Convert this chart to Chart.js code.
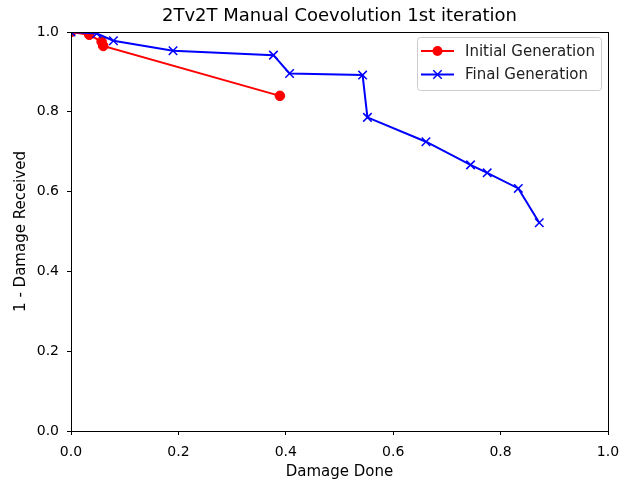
<!DOCTYPE html>
<html>
<head>
<meta charset="utf-8">
<script src="https://cdn.jsdelivr.net/npm/chart.js@4/dist/chart.umd.min.js"></script>
<style>
  body { margin: 0; background: #fff; }
  #chart { display: block; }
</style>
</head>
<body>
<canvas id="chart" width="621" height="483"></canvas>
<script>
// values
const initialX = [0.0, 0.034, 0.057, 0.060, 0.389];
const initialY = [1.0, 0.993, 0.976, 0.965, 0.840];
const finalX = [0.0, 0.048, 0.079, 0.190, 0.377, 0.407, 0.543, 0.552, 0.661, 0.744, 0.775, 0.833, 0.872];
const finalY = [1.0, 0.996, 0.978, 0.953, 0.942, 0.896, 0.892, 0.786, 0.725, 0.667, 0.647, 0.608, 0.522];
const tickValues = [0.0, 0.2, 0.4, 0.6, 0.8, 1.0];
const chartTitle = '2Tv2T Manual Coevolution 1st iteration';

const FONT = "'DejaVu Sans', sans-serif";

function toPoints(xs, ys) {
    return xs.map((x, i) => ({ x: x, y: ys[i] }));
}

// full box around the plot like matplotlib spines, title centred over the axes
const frame = {
    id: 'frame',
    afterDatasetsDraw(chart) {
        const a = chart.chartArea, ctx = chart.ctx;
        ctx.save();
        ctx.strokeStyle = '#000';
        ctx.lineWidth = 1;
        ctx.strokeRect(a.left + 0.5, a.top + 0.5, a.right - a.left, a.bottom - a.top);
        ctx.fillStyle = '#000';
        ctx.font = '18px ' + FONT;
        ctx.textAlign = 'center';
        ctx.textBaseline = 'middle';
        ctx.fillText(chartTitle, (a.left + a.right) / 2, a.top - 16);
        ctx.restore();
    }
};

// legend inside the axes, upper right
const innerLegend = {
    id: 'innerLegend',
    afterDraw(chart) {
        const a = chart.chartArea, ctx = chart.ctx;
        const w = 184, h = 53;
        const bx = a.right - 7 - w, by = a.top + 5;
        ctx.save();
        ctx.fillStyle = 'rgba(255,255,255,0.8)';
        ctx.strokeStyle = '#cccccc';
        ctx.lineWidth = 1;
        ctx.beginPath();
        ctx.roundRect(bx + 0.5, by + 0.5, w, h, 3);
        ctx.fill();
        ctx.stroke();
        ctx.font = '15px ' + FONT;
        ctx.textBaseline = 'middle';
        chart.data.datasets.forEach((ds, i) => {
            const cy = by + 14 + i * 23.5;
            const x0 = bx + 4, x1 = bx + 37, cx = (x0 + x1) / 2;
            ctx.strokeStyle = ds.borderColor;
            ctx.lineWidth = 2;
            ctx.beginPath();
            ctx.moveTo(x0, cy);
            ctx.lineTo(x1, cy);
            ctx.stroke();
            if (ds.pointStyle === 'circle') {
                ctx.fillStyle = ds.borderColor;
                ctx.beginPath();
                ctx.arc(cx, cy, 5, 0, Math.PI * 2);
                ctx.fill();
            } else {
                const r = 4.2;
                ctx.lineWidth = 1.5;
                ctx.beginPath();
                ctx.moveTo(cx - r, cy - r); ctx.lineTo(cx + r, cy + r);
                ctx.moveTo(cx - r, cy + r); ctx.lineTo(cx + r, cy - r);
                ctx.stroke();
            }
            ctx.fillStyle = '#222';
            ctx.fillText(ds.label, bx + 48, cy + 1);
        });
        ctx.restore();
    }
};

const chart = new Chart(document.getElementById('chart'), {
    type: 'line',
    data: {
        datasets: [
            {
                label: 'Initial Generation',
                data: toPoints(initialX, initialY),
                borderColor: '#ff0000',
                backgroundColor: '#ff0000',
                borderWidth: 2,
                pointStyle: 'circle',
                pointRadius: 4.8,
                pointBorderWidth: 1,
                fill: false,
                tension: 0,
                clip: 0,
                order: 1
            },
            {
                label: 'Final Generation',
                data: toPoints(finalX, finalY),
                borderColor: '#0000ff',
                backgroundColor: '#0000ff',
                borderWidth: 2,
                pointStyle: 'crossRot',
                pointRadius: 6,
                pointBorderWidth: 1.5,
                fill: false,
                tension: 0,
                clip: 0,
                order: 0
            }
        ]
    },
    options: {
        responsive: false,
        animation: false,
        events: [],
        layout: { padding: { left: 0, right: 13, top: 32, bottom: 0 } },
        plugins: {
            legend: { display: false },
            tooltip: { enabled: false },
            title: { display: false }
        },
        scales: {
            x: {
                type: 'linear',
                min: 0,
                max: 1,
                afterBuildTicks: s => { s.ticks = tickValues.map(v => ({ value: v })); },
                afterFit: s => { s.height = 52; s.paddingRight = 0; s.paddingLeft = 0; },
                ticks: {
                    color: '#000',
                    padding: 9,
                    maxRotation: 0,
                    font: { family: FONT, size: 14 },
                    callback: v => v.toFixed(1)
                },
                grid: { drawOnChartArea: false, drawTicks: true, tickLength: 4, tickColor: '#000' },
                border: { display: true, color: '#000', width: 1 },
                title: {
                    display: true,
                    text: 'Damage Done',
                    color: '#000',
                    font: { family: FONT, size: 15 },
                    padding: { top: 0, bottom: 2 }
                }
            },
            y: {
                type: 'linear',
                min: 0,
                max: 1,
                afterBuildTicks: s => { s.ticks = tickValues.map(v => ({ value: v })); },
                afterFit: s => { s.width = 71; s.paddingTop = 0; s.paddingBottom = 0; },
                ticks: {
                    color: '#000',
                    padding: 8,
                    font: { family: FONT, size: 14 },
                    callback: v => v.toFixed(1)
                },
                grid: { drawOnChartArea: false, drawTicks: true, tickLength: 4, tickColor: '#000' },
                border: { display: true, color: '#000', width: 1 },
                title: {
                    display: true,
                    text: '1 - Damage Received',
                    color: '#000',
                    font: { family: FONT, size: 15 },
                    padding: { top: 12, bottom: 0 }
                }
            }
        }
    },
    plugins: [frame, innerLegend]
});
</script>
</body>
</html>
